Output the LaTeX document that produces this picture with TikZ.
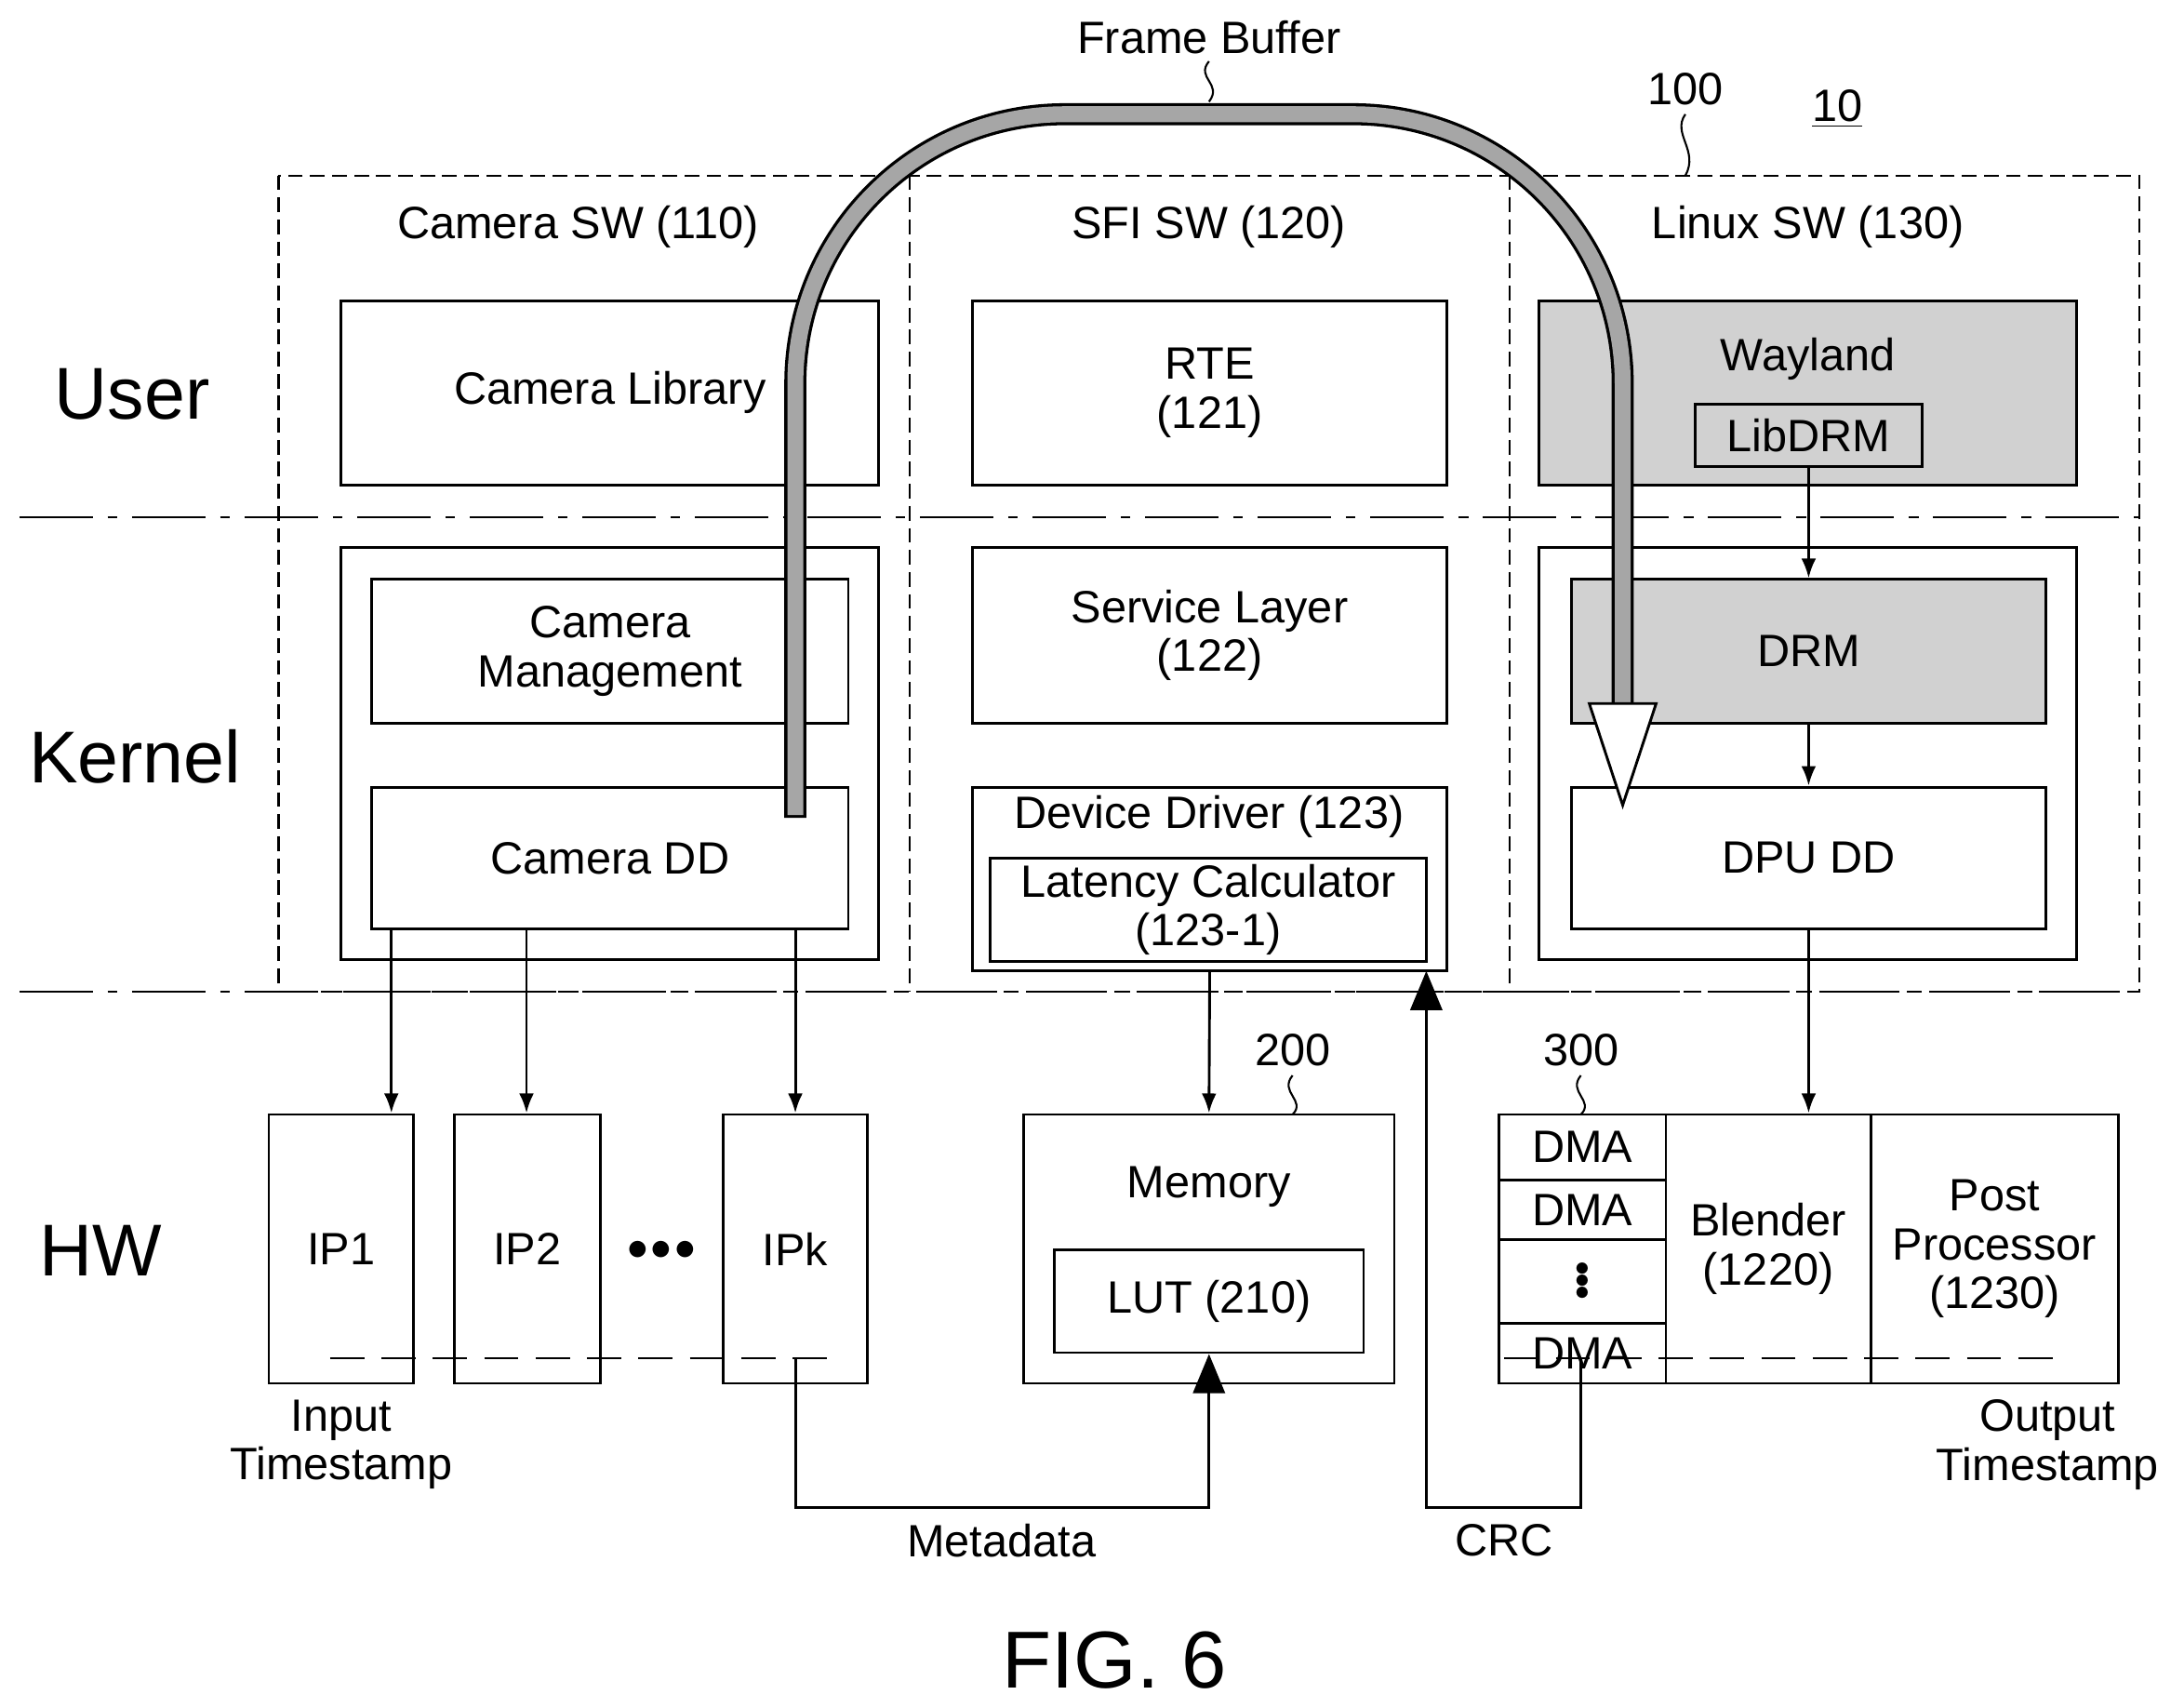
\documentclass[tikz,border=0pt]{standalone}
\usepackage{fontspec}
\setmainfont{Liberation Sans}
\usetikzlibrary{arrows.meta}
\tikzset{
  box/.style={draw,line width=1.1pt,inner sep=0pt,align=center,font=\fontsize{18.5}{20}\selectfont},
  dotbox/.style={box,fill=black!18},
  arr/.style={line width=1.1pt,-{Latex[length=8pt,width=6pt]}},
  bigarr/.style={line width=1.1pt,-{Triangle[length=16pt,width=13pt]}},
  lbl/.style={font=\fontsize{18.5}{20}\selectfont,align=center,inner sep=0pt},
  side/.style={font=\fontsize{30}{32}\selectfont,inner sep=0pt},
  lead/.style={line width=0.8pt},
  lane/.style={line width=0.8pt,dash pattern=on 6pt off 3pt},
}
% box from corner (x1,y1) to (x2,y2)
\newcommand\blk[7][]{\node[box,#1,minimum width={(#5-#3)*0.02cm},minimum height={(#6-#4)*0.02cm}] (#2) at ({(#3+#5)/2},{(#4+#6)/2}) {#7};}
\begin{document}
\begin{tikzpicture}[x=0.02cm,y=-0.02cm]
\useasboundingbox (0,0) rectangle (1568,1226);
% system frame and lanes
\draw[lane] (200,126) rectangle (1536,712);
\draw[lane] (653,126) -- (653,712);
\draw[lane] (1084,126) -- (1084,712);
\draw[line width=0.8pt,dash pattern=on 30pt off 6pt on 4pt off 6pt] (14,371) -- (1536,371);
\draw[line width=0.8pt,dash pattern=on 30pt off 6pt on 4pt off 6pt] (14,712) -- (1536,712);
\node[side] (user) at (95,283) {User};
\node[side] (kernel) at (97,543) {Kernel};
\node[side] (hw) at (72,898) {HW};
\node[lbl] (t110) at (415,163) {Camera SW (110)};
\node[lbl] (t120) at (868,163) {SFI SW (120)};
\node[lbl] (t130) at (1298,163) {Linux SW (130)};
% user space
\blk{camlib}{245}{216}{631}{348}{Camera Library}
\blk{rte}{698}{216}{1039}{348}{RTE\\(121)}
\blk[dotbox]{wayland}{1105}{216}{1491}{348}{}
\node[lbl] (waytxt) at (1298,258) {Wayland};
\blk{libdrm}{1217}{290}{1380}{335}{LibDRM}
% kernel
\blk{camk}{245}{393}{631}{689}{}
\blk{cammgmt}{267}{416}{609}{519}{Camera\\Management}
\blk{camdd}{267}{565}{609}{667}{Camera DD}
\blk{svc}{698}{393}{1039}{519}{Service Layer\\(122)}
\blk{devdrv}{698}{565}{1039}{697}{}
\node[lbl] (ddtxt) at (868,586) {Device Driver (123)};
\blk{latcalc}{711}{616}{1024}{690}{Latency Calculator\\(123-1)}
\blk{link}{1105}{393}{1491}{689}{}
\blk[dotbox]{drm}{1128}{416}{1469}{519}{DRM}
\blk{dpudd}{1128}{565}{1469}{667}{DPU DD}
% hardware
\blk{ip1}{193}{800}{297}{993}{IP1}
\blk{ip2}{326}{800}{431}{993}{IP2}
\blk{ipk}{519}{800}{623}{993}{IPk}
\node[lbl] (ipdots) at (475,898) {$\bullet\!\bullet\!\bullet$};
\blk{mem}{735}{800}{1001}{993}{}
\node[lbl] (memtxt) at (868,852) {Memory};
\blk{lut}{757}{897}{979}{971}{LUT (210)}
\blk{dpu}{1076}{800}{1521}{993}{}
\blk{dma1}{1076}{800}{1196}{847}{DMA}
\blk{dma2}{1076}{847}{1196}{890}{DMA}
\blk{dmad}{1076}{890}{1196}{950}{}
\node[lbl,font=\fontsize{12}{7}\selectfont] (dmadots) at (dmad) {$\bullet$\\[-2pt]$\bullet$\\[-2pt]$\bullet$};
\blk{dma3}{1076}{950}{1196}{993}{DMA}
\blk{blender}{1196}{800}{1343}{993}{Blender\\(1220)}
\blk{post}{1343}{800}{1521}{993}{Post\\Processor\\(1230)}
\draw[line width=0.8pt,dash pattern=on 14pt off 7pt] (237,975) -- (600,975);
\draw[line width=0.8pt,dash pattern=on 14pt off 7pt] (1080,975) -- (1475,975);
\node[lbl] (intime) at (245,1037) {Input\\Timestamp};
\node[lbl] (outtime) at (1470,1037) {Output\\Timestamp};
% connectors
\draw[arr] (libdrm.south) -- (drm.north);
\draw[arr] (drm.south) -- (dpudd.north);
\draw[arr] (dpudd.south) -- (dpudd.south |- blender.north);
\draw[arr] (281,0 |- camdd.south) -- (281,0 |- ip1.north);
\draw[arr] (378,0 |- camdd.south) -- (378,0 |- ip2.north);
\draw[arr] (571,0 |- camdd.south) -- (571,0 |- ipk.north);
\draw[arr] (devdrv.south) -- (mem.north);
\coordinate (mdstart) at (571,975);
\coordinate (crcstart) at (1135,975);
\coordinate (crcend) at (1024,697);
\draw[bigarr] (mdstart) -- (571,1082) -| (lut.south);
\draw[bigarr] (crcstart) -- (1135,1082) -| (crcend);
\node[lbl] (mdlbl) at (719,1106) {Metadata};
\node[lbl] (crclbl) at (1080,1106) {CRC};
% frame buffer pipe
\draw[line width=9pt,line cap=butt,rounded corners=110] (571,587) -- (571,82) -- (1165,82) -- (1165,506);
\draw[line width=6.5pt,line cap=butt,black!35,rounded corners=110] (571,585) -- (571,82) -- (1165,82) -- (1165,506);
\draw[line width=1.1pt,fill=white] (1141,505) -- (1189,505) -- (1165,578) -- cycle;
% reference labels
\node[lbl] (fblbl) at (868,27) {Frame Buffer};
\draw[lead] (868,44) .. controls (858,56) and (878,60) .. (868,73);
\node[lbl] (l100) at (1210,64) {100};
\draw[lead] (1210,82) .. controls (1200,96) and (1220,108) .. (1210,126);
\node[lbl] (l10) at (1319,78) {\underline{10}};
\node[lbl] (l200) at (928,754) {200};
\draw[lead] (928,772) .. controls (918,784) and (938,790) .. (928,800);
\node[lbl] (l300) at (1135,754) {300};
\draw[lead] (1135,772) .. controls (1125,784) and (1145,790) .. (1135,800);
\node[font=\fontsize{33}{35}\selectfont,inner sep=0pt] (fig) at (800,1192) {FIG. 6};
\end{tikzpicture}
\end{document}
